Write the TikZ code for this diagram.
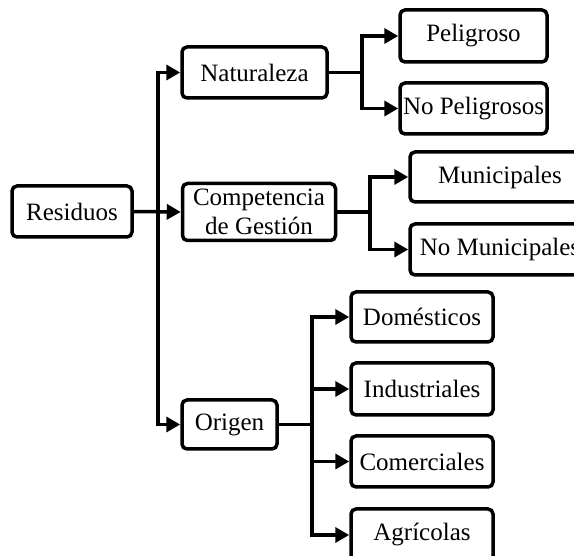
\documentclass[tikz,border=0pt]{standalone}
\usepackage{fontspec}
\setmainfont{Liberation Serif}
\usetikzlibrary{arrows.meta}
\begin{document}
\begin{tikzpicture}[x=1pt,y=-1pt,
  box/.style={draw=black,line width=3.5pt,rounded corners=5pt,fill=white,inner sep=0pt,
    align=center,font=\fontsize{25}{29}\selectfont},
  conn/.style={line width=3.5pt},
  arr/.style={line width=3.5pt,-{Triangle[length=14pt,width=15pt]}}]
\clip (0,0) rectangle (574,556);
\fill[white] (0,0) rectangle (574,556);
% nodes
\node[box,minimum width=120pt,minimum height=51pt] (res) at (72,211.5) {Residuos};
\node[box,minimum width=145pt,minimum height=51pt] (nat) at (254.5,72.5) {Naturaleza};
\node[box,minimum width=153pt,minimum height=57pt] (comp) at (259,212) {Competencia\\de Gestión};
\node[box,minimum width=95pt,minimum height=49pt] (ori) at (229.5,424.5) {Origen};
\node[box,minimum width=147pt,minimum height=52pt] (pel) at (473.5,36) {Peligroso};
\node[box,minimum width=147pt,minimum height=51pt] (nopel) at (473.5,108.5) {No Peligrosos};
\node[box,minimum width=180pt,minimum height=50pt] (mun) at (500,177) {Municipales};
\node[box,minimum width=180pt,minimum height=51pt] (nomun) at (500,249.5) {No Municipales};
\node[box,minimum width=142pt,minimum height=50pt] (dom) at (422,317) {Domésticos};
\node[box,minimum width=142pt,minimum height=52pt] (ind) at (422,389) {Industriales};
\node[box,minimum width=142pt,minimum height=51pt] (com) at (422,461.5) {Comerciales};
\node[box,minimum width=142pt,minimum height=52pt] (agr) at (422,535) {Agrícolas};
% junction points
\coordinate (t) at (158,212);
\coordinate (b1) at (362,72.5);
\coordinate (b2) at (370,212);
\coordinate (b3) at (312,424.5);
% connectors
\draw[arr] (res.east) -- (comp.west);
\draw[arr] (t) |- (nat.west);
\draw[arr] (t) |- (ori.west);
\draw[conn] (nat.east) -- (b1);
\draw[arr] (b1) |- (pel.west);
\draw[arr] (b1) |- (nopel.west);
\draw[conn] (comp.east) -- (b2);
\draw[arr] (b2) |- (mun.west);
\draw[arr] (b2) |- (nomun.west);
\draw[conn] (ori.east) -- (b3);
\draw[arr] (b3) |- (dom.west);
\draw[arr] (b3) |- (ind.west);
\draw[arr] (b3) |- (com.west);
\draw[arr] (b3) |- (agr.west);
\end{tikzpicture}
\end{document}
